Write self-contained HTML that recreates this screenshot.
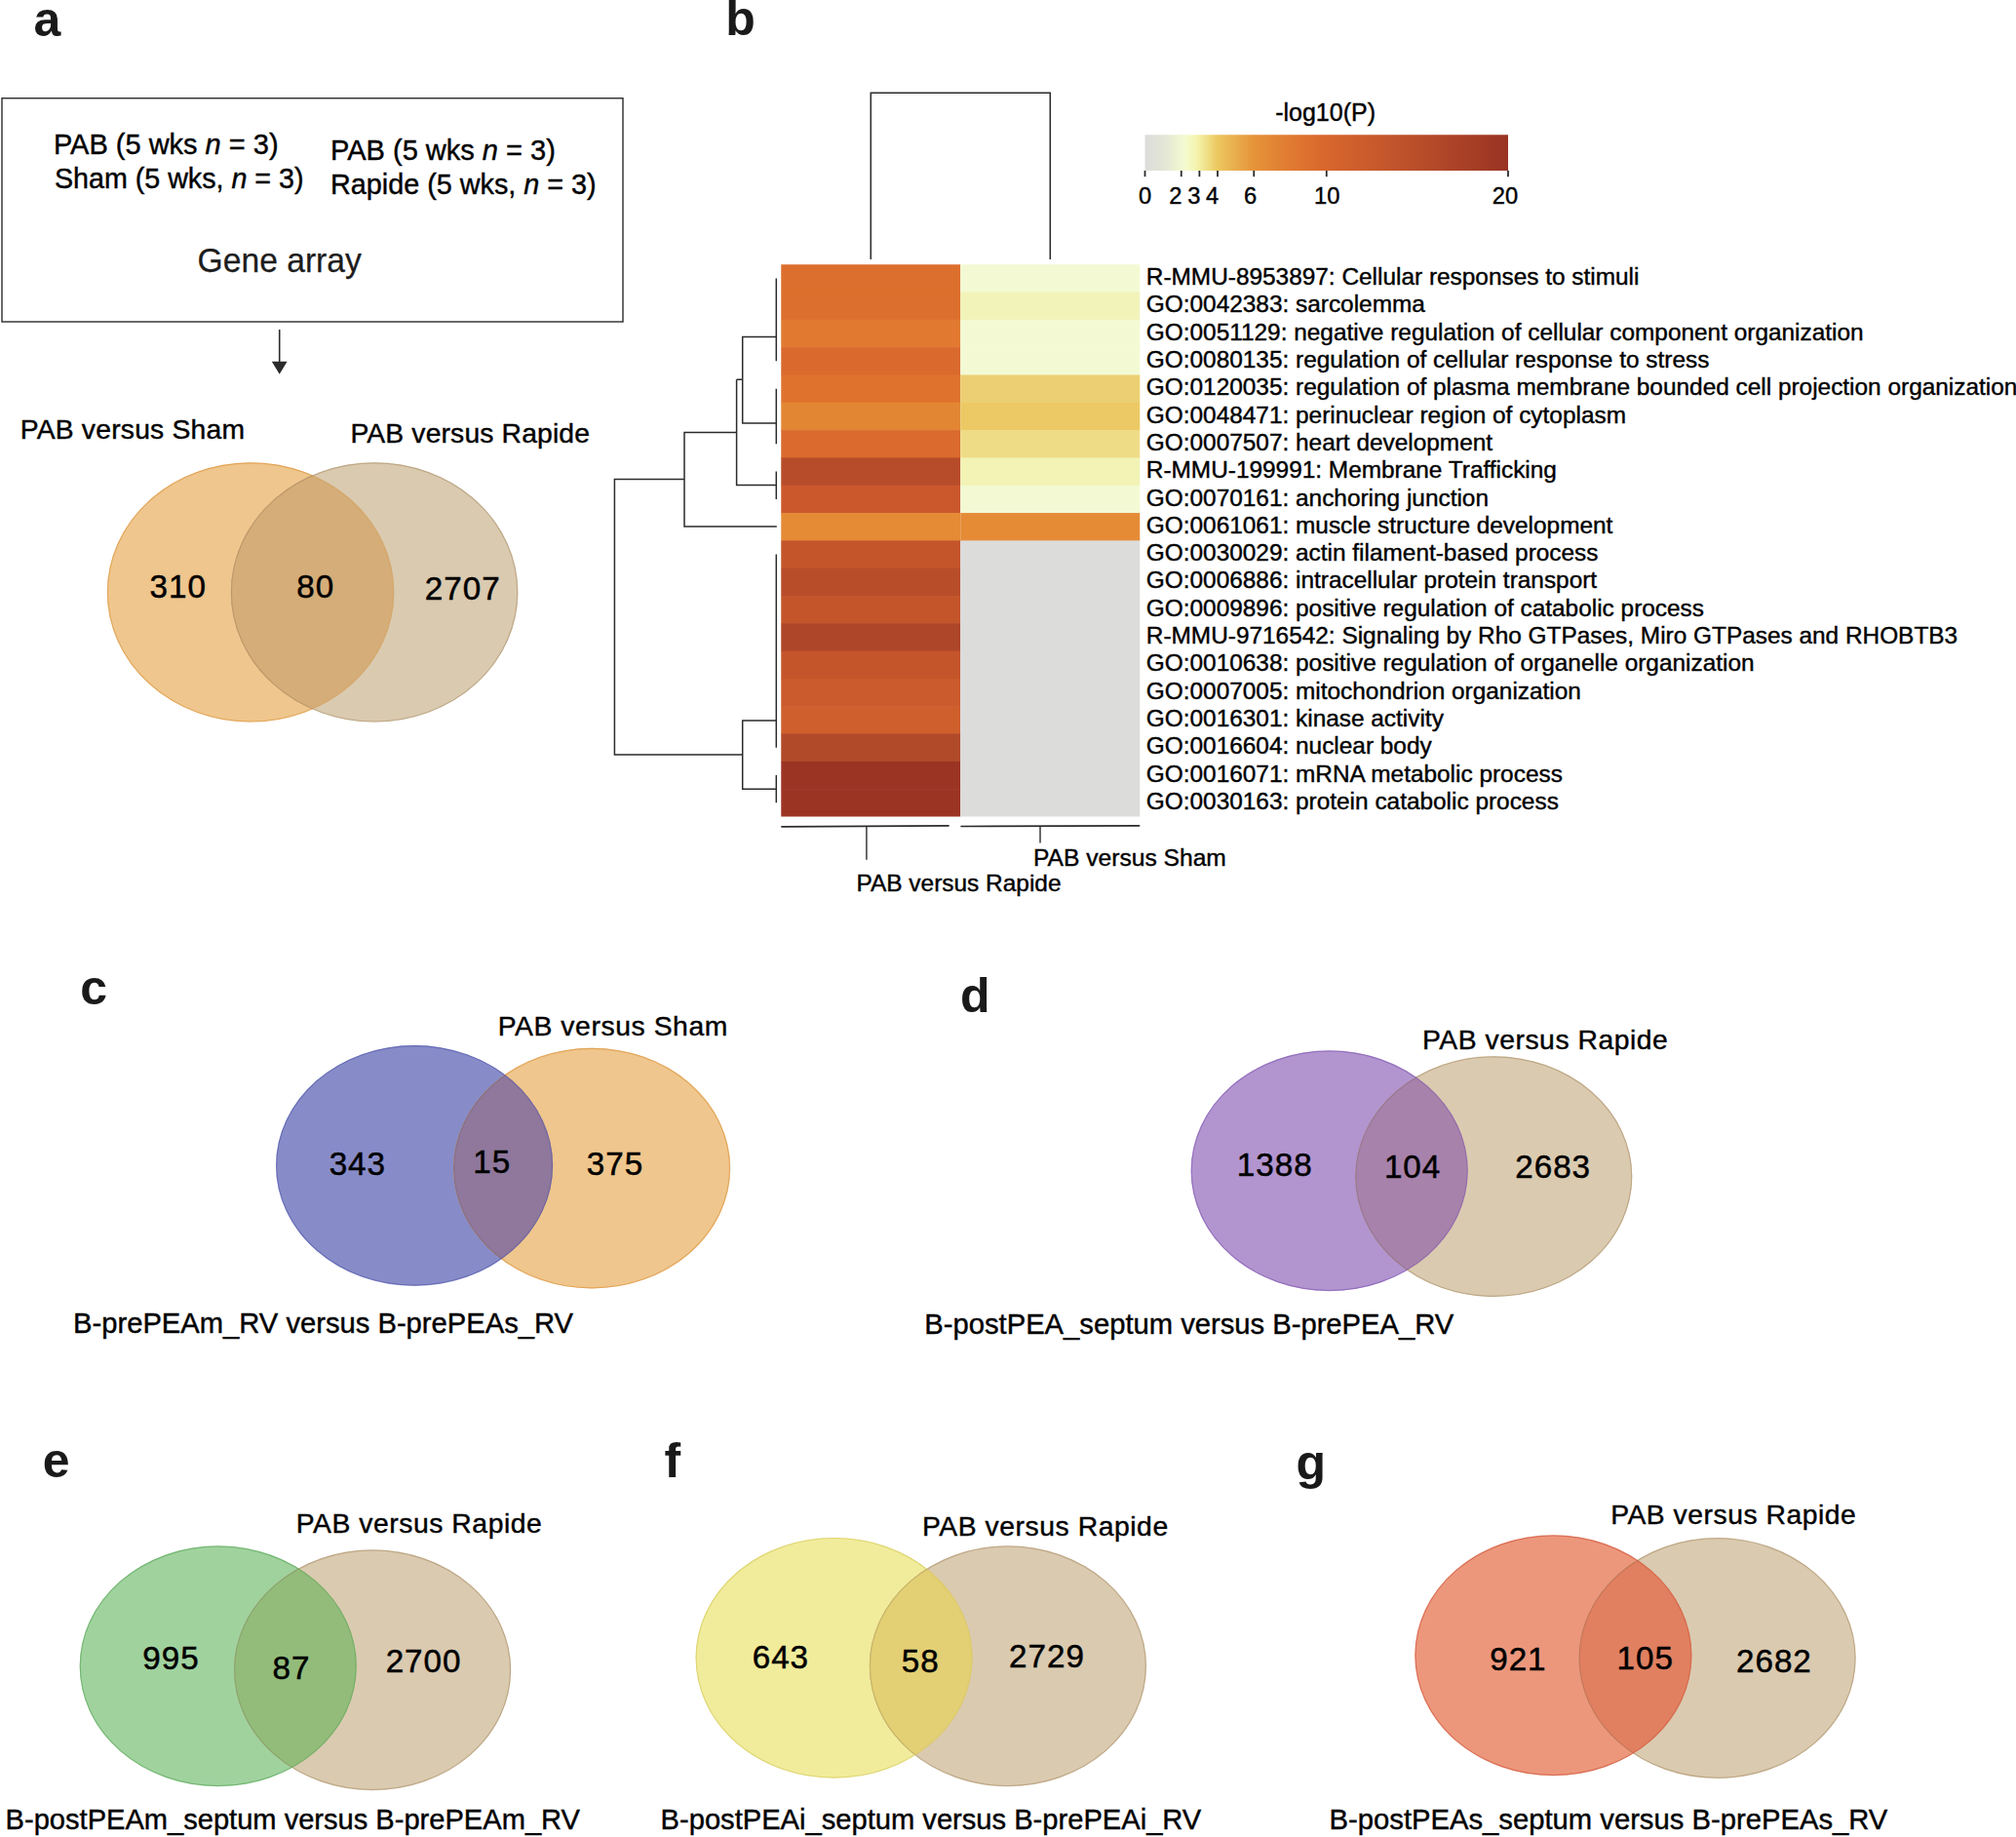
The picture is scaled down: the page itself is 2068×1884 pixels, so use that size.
<!DOCTYPE html>
<html lang="en"><head><meta charset="utf-8"><title>Figure</title>
<style>
html,body{margin:0;padding:0;background:#fff;}
body{width:2068px;height:1884px;overflow:hidden;}
svg{display:block;font-family:"Liberation Sans", Arial, Helvetica, sans-serif;}
text{white-space:pre;}
</style></head><body>
<svg width="2068" height="1884" viewBox="0 0 2068 1884">
<rect width="2068" height="1884" fill="#ffffff"/>
<text x="34.50" y="36.5" font-size="50" text-anchor="start" font-weight="bold" fill="#1a1a1a" >a</text>
<text x="744.25" y="35.5" font-size="50" text-anchor="start" font-weight="bold" fill="#1a1a1a" >b</text>
<text x="82.20" y="1029.9" font-size="50" text-anchor="start" font-weight="bold" fill="#1a1a1a" >c</text>
<text x="985.00" y="1037.8" font-size="50" text-anchor="start" font-weight="bold" fill="#1a1a1a" >d</text>
<text x="43.80" y="1515.3" font-size="50" text-anchor="start" font-weight="bold" fill="#1a1a1a" >e</text>
<text x="681.62" y="1515" font-size="50" text-anchor="start" font-weight="bold" fill="#1a1a1a" >f</text>
<text x="1329.60" y="1516.9" font-size="50" text-anchor="start" font-weight="bold" fill="#1a1a1a" >g</text>
<rect x="2" y="100.75" width="637" height="229.25" fill="none" stroke="#2b2b2b" stroke-width="1.4"/>
<text x="54.91" y="157.5" font-size="28.99" text-anchor="start" font-weight="normal" fill="#000"  stroke="#000" stroke-width="0.4">PAB (5 wks <tspan font-style="italic">n</tspan> = 3)</text>
<text x="55.91" y="192.5" font-size="28.66" text-anchor="start" font-weight="normal" fill="#000"  stroke="#000" stroke-width="0.4">Sham (5 wks, <tspan font-style="italic">n</tspan> = 3)</text>
<text x="339.00" y="164.25" font-size="29.03" text-anchor="start" font-weight="normal" fill="#000"  stroke="#000" stroke-width="0.4">PAB (5 wks <tspan font-style="italic">n</tspan> = 3)</text>
<text x="339.03" y="199.25" font-size="28.77" text-anchor="start" font-weight="normal" fill="#000"  stroke="#000" stroke-width="0.4">Rapide (5 wks, <tspan font-style="italic">n</tspan> = 3)</text>
<text x="202.57" y="279.2" font-size="35.2" text-anchor="start" font-weight="normal" fill="#1c1c1c" textLength="168.27" lengthAdjust="spacingAndGlyphs"  stroke="#1c1c1c" stroke-width="0.25">Gene array</text>
<line x1="286.7" y1="338" x2="286.7" y2="372" stroke="#2b2b2b" stroke-width="1.6"/>
<path d="M278.8 370.8 L294.6 370.8 L286.7 383.8 Z" fill="#2b2b2b"/>
<text x="20.67" y="450" font-size="28.3" text-anchor="start" font-weight="normal" fill="#000" letter-spacing="0.207" stroke="#000" stroke-width="0.4">PAB versus Sham</text>
<text x="359.42" y="453.75" font-size="28.3" text-anchor="start" font-weight="normal" fill="#000" letter-spacing="0.144" stroke="#000" stroke-width="0.4">PAB versus Rapide</text>
<clipPath id="cpa1"><ellipse cx="257.1" cy="607.4" rx="147.2" ry="133.1"/></clipPath><clipPath id="cpb1"><ellipse cx="384.1" cy="607.4" rx="147.2" ry="133.1"/></clipPath>
<ellipse cx="257.1" cy="607.4" rx="147.2" ry="133.1" fill="#efc68d"/>
<ellipse cx="257.1" cy="607.4" rx="146.7" ry="132.6" fill="none" stroke="#d88a2c" stroke-opacity="0.55" stroke-width="1.2"/>
<ellipse cx="384.1" cy="607.4" rx="147.2" ry="133.1" fill="#dacab0"/>
<ellipse cx="384.1" cy="607.4" rx="146.7" ry="132.6" fill="none" stroke="#a58a60" stroke-opacity="0.55" stroke-width="1.2"/>
<ellipse cx="384.1" cy="607.4" rx="147.2" ry="133.1" fill="#d5ad78" clip-path="url(#cpa1)"/>
<ellipse cx="384.1" cy="607.4" rx="146.7" ry="132.6" fill="none" stroke="#3a2a10" stroke-opacity="0.13" stroke-width="1.2" clip-path="url(#cpa1)"/>
<ellipse cx="257.1" cy="607.4" rx="146.7" ry="132.6" fill="none" stroke="#d88a2c" stroke-opacity="0.2" stroke-width="1.2" clip-path="url(#cpb1)"/>
<text x="153.57" y="613" font-size="33.2" text-anchor="start" font-weight="normal" fill="#000" letter-spacing="1.0" stroke="#000" stroke-width="0.5">310</text>
<text x="304.37" y="612.7" font-size="33.2" text-anchor="start" font-weight="normal" fill="#000" letter-spacing="1.0" stroke="#000" stroke-width="0.5">80</text>
<text x="435.86" y="614.5" font-size="33.2" text-anchor="start" font-weight="normal" fill="#000" letter-spacing="1.0" stroke="#000" stroke-width="0.5">2707</text>
<clipPath id="cpa2"><ellipse cx="425.1" cy="1195.4" rx="142" ry="123.3"/></clipPath><clipPath id="cpb2"><ellipse cx="607.1" cy="1198.1" rx="142" ry="123.3"/></clipPath>
<ellipse cx="425.1" cy="1195.4" rx="142" ry="123.3" fill="#878cc8"/>
<ellipse cx="425.1" cy="1195.4" rx="141.5" ry="122.8" fill="none" stroke="#4a50a8" stroke-opacity="0.55" stroke-width="1.2"/>
<ellipse cx="607.1" cy="1198.1" rx="142" ry="123.3" fill="#efc68d"/>
<ellipse cx="607.1" cy="1198.1" rx="141.5" ry="122.8" fill="none" stroke="#d88a2c" stroke-opacity="0.55" stroke-width="1.2"/>
<ellipse cx="607.1" cy="1198.1" rx="142" ry="123.3" fill="#8f789c" clip-path="url(#cpa2)"/>
<ellipse cx="607.1" cy="1198.1" rx="141.5" ry="122.8" fill="none" stroke="#3a2a10" stroke-opacity="0.13" stroke-width="1.2" clip-path="url(#cpa2)"/>
<ellipse cx="425.1" cy="1195.4" rx="141.5" ry="122.8" fill="none" stroke="#4a50a8" stroke-opacity="0.45" stroke-width="1.2" clip-path="url(#cpb2)"/>
<text x="337.65" y="1204.5" font-size="33.2" text-anchor="start" font-weight="normal" fill="#000" letter-spacing="1.0" stroke="#000" stroke-width="0.5">343</text>
<text x="485.37" y="1203" font-size="33.2" text-anchor="start" font-weight="normal" fill="#000" letter-spacing="1.0" stroke="#000" stroke-width="0.5">15</text>
<text x="601.74" y="1205" font-size="33.2" text-anchor="start" font-weight="normal" fill="#000" letter-spacing="1.0" stroke="#000" stroke-width="0.5">375</text>
<text x="510.67" y="1062" font-size="28.3" text-anchor="start" font-weight="normal" fill="#000" letter-spacing="0.582" stroke="#000" stroke-width="0.4">PAB versus Sham</text>
<text x="75.09" y="1367" font-size="29.18" text-anchor="start" font-weight="normal" fill="#000"  stroke="#000" stroke-width="0.4">B-prePEAm_RV versus B-prePEAs_RV</text>
<clipPath id="cpa3"><ellipse cx="1363.7" cy="1200.75" rx="142" ry="123.3"/></clipPath><clipPath id="cpb3"><ellipse cx="1532.25" cy="1206.6" rx="142" ry="123.3"/></clipPath>
<ellipse cx="1363.7" cy="1200.75" rx="142" ry="123.3" fill="#b295cf"/>
<ellipse cx="1363.7" cy="1200.75" rx="141.5" ry="122.8" fill="none" stroke="#7a4fae" stroke-opacity="0.55" stroke-width="1.2"/>
<ellipse cx="1532.25" cy="1206.6" rx="142" ry="123.3" fill="#dacab0"/>
<ellipse cx="1532.25" cy="1206.6" rx="141.5" ry="122.8" fill="none" stroke="#a58a60" stroke-opacity="0.55" stroke-width="1.2"/>
<ellipse cx="1532.25" cy="1206.6" rx="142" ry="123.3" fill="#a782ab" clip-path="url(#cpa3)"/>
<ellipse cx="1532.25" cy="1206.6" rx="141.5" ry="122.8" fill="none" stroke="#3a2a10" stroke-opacity="0.13" stroke-width="1.2" clip-path="url(#cpa3)"/>
<ellipse cx="1363.7" cy="1200.75" rx="141.5" ry="122.8" fill="none" stroke="#7a4fae" stroke-opacity="0.45" stroke-width="1.2" clip-path="url(#cpb3)"/>
<text x="1268.82" y="1206.25" font-size="33.2" text-anchor="start" font-weight="normal" fill="#000" letter-spacing="1.0" stroke="#000" stroke-width="0.5">1388</text>
<text x="1419.91" y="1208.25" font-size="33.2" text-anchor="start" font-weight="normal" fill="#000" letter-spacing="1.0" stroke="#000" stroke-width="0.5">104</text>
<text x="1554.23" y="1208.25" font-size="33.2" text-anchor="start" font-weight="normal" fill="#000" letter-spacing="1.0" stroke="#000" stroke-width="0.5">2683</text>
<text x="1458.97" y="1076" font-size="28.3" text-anchor="start" font-weight="normal" fill="#000" letter-spacing="0.537" stroke="#000" stroke-width="0.4">PAB versus Rapide</text>
<text x="948.34" y="1368" font-size="29.19" text-anchor="start" font-weight="normal" fill="#000"  stroke="#000" stroke-width="0.4">B-postPEA_septum versus B-prePEA_RV</text>
<clipPath id="cpa4"><ellipse cx="223.75" cy="1708.75" rx="142" ry="123.3"/></clipPath><clipPath id="cpb4"><ellipse cx="382.1" cy="1712.75" rx="142" ry="123.3"/></clipPath>
<ellipse cx="223.75" cy="1708.75" rx="142" ry="123.3" fill="#a0d29e"/>
<ellipse cx="223.75" cy="1708.75" rx="141.5" ry="122.8" fill="none" stroke="#4fa04c" stroke-opacity="0.55" stroke-width="1.2"/>
<ellipse cx="382.1" cy="1712.75" rx="142" ry="123.3" fill="#dacab0"/>
<ellipse cx="382.1" cy="1712.75" rx="141.5" ry="122.8" fill="none" stroke="#a58a60" stroke-opacity="0.55" stroke-width="1.2"/>
<ellipse cx="382.1" cy="1712.75" rx="142" ry="123.3" fill="#93bc7b" clip-path="url(#cpa4)"/>
<ellipse cx="382.1" cy="1712.75" rx="141.5" ry="122.8" fill="none" stroke="#3a2a10" stroke-opacity="0.13" stroke-width="1.2" clip-path="url(#cpa4)"/>
<ellipse cx="223.75" cy="1708.75" rx="141.5" ry="122.8" fill="none" stroke="#4fa04c" stroke-opacity="0.45" stroke-width="1.2" clip-path="url(#cpb4)"/>
<text x="146.32" y="1712" font-size="33.2" text-anchor="start" font-weight="normal" fill="#000" letter-spacing="1.0" stroke="#000" stroke-width="0.5">995</text>
<text x="279.57" y="1721.5" font-size="33.2" text-anchor="start" font-weight="normal" fill="#000" letter-spacing="1.0" stroke="#000" stroke-width="0.5">87</text>
<text x="395.65" y="1714.75" font-size="33.2" text-anchor="start" font-weight="normal" fill="#000" letter-spacing="1.0" stroke="#000" stroke-width="0.5">2700</text>
<text x="303.67" y="1572.1" font-size="28.3" text-anchor="start" font-weight="normal" fill="#000" letter-spacing="0.556" stroke="#000" stroke-width="0.4">PAB versus Rapide</text>
<text x="5.60" y="1876" font-size="29.09" text-anchor="start" font-weight="normal" fill="#000"  stroke="#000" stroke-width="0.4">B-postPEAm_septum versus B-prePEAm_RV</text>
<clipPath id="cpa5"><ellipse cx="855.6" cy="1700.3" rx="142" ry="123.3"/></clipPath><clipPath id="cpb5"><ellipse cx="1033.9" cy="1708.75" rx="142" ry="123.3"/></clipPath>
<ellipse cx="855.6" cy="1700.3" rx="142" ry="123.3" fill="#f1ec9b"/>
<ellipse cx="855.6" cy="1700.3" rx="141.5" ry="122.8" fill="none" stroke="#cfc350" stroke-opacity="0.55" stroke-width="1.2"/>
<ellipse cx="1033.9" cy="1708.75" rx="142" ry="123.3" fill="#dacab0"/>
<ellipse cx="1033.9" cy="1708.75" rx="141.5" ry="122.8" fill="none" stroke="#a58a60" stroke-opacity="0.55" stroke-width="1.2"/>
<ellipse cx="1033.9" cy="1708.75" rx="142" ry="123.3" fill="#e3cf74" clip-path="url(#cpa5)"/>
<ellipse cx="1033.9" cy="1708.75" rx="141.5" ry="122.8" fill="none" stroke="#3a2a10" stroke-opacity="0.13" stroke-width="1.2" clip-path="url(#cpa5)"/>
<ellipse cx="855.6" cy="1700.3" rx="141.5" ry="122.8" fill="none" stroke="#cfc350" stroke-opacity="0.3" stroke-width="1.2" clip-path="url(#cpb5)"/>
<text x="771.70" y="1711" font-size="33.2" text-anchor="start" font-weight="normal" fill="#000" letter-spacing="1.0" stroke="#000" stroke-width="0.5">643</text>
<text x="924.74" y="1715.4" font-size="33.2" text-anchor="start" font-weight="normal" fill="#000" letter-spacing="1.0" stroke="#000" stroke-width="0.5">58</text>
<text x="1035.02" y="1709.5" font-size="33.2" text-anchor="start" font-weight="normal" fill="#000" letter-spacing="1.0" stroke="#000" stroke-width="0.5">2729</text>
<text x="945.97" y="1574.5" font-size="28.3" text-anchor="start" font-weight="normal" fill="#000" letter-spacing="0.556" stroke="#000" stroke-width="0.4">PAB versus Rapide</text>
<text x="677.60" y="1876" font-size="29.14" text-anchor="start" font-weight="normal" fill="#000"  stroke="#000" stroke-width="0.4">B-postPEAi_septum versus B-prePEAi_RV</text>
<clipPath id="cpa6"><ellipse cx="1593.4" cy="1697.75" rx="142" ry="123.3"/></clipPath><clipPath id="cpb6"><ellipse cx="1761.6" cy="1700.5" rx="142" ry="123.3"/></clipPath>
<ellipse cx="1593.4" cy="1697.75" rx="142" ry="123.3" fill="#ec977c"/>
<ellipse cx="1593.4" cy="1697.75" rx="141.5" ry="122.8" fill="none" stroke="#cc4a30" stroke-opacity="0.55" stroke-width="1.2"/>
<ellipse cx="1761.6" cy="1700.5" rx="142" ry="123.3" fill="#dacab0"/>
<ellipse cx="1761.6" cy="1700.5" rx="141.5" ry="122.8" fill="none" stroke="#a58a60" stroke-opacity="0.55" stroke-width="1.2"/>
<ellipse cx="1761.6" cy="1700.5" rx="142" ry="123.3" fill="#e08060" clip-path="url(#cpa6)"/>
<ellipse cx="1761.6" cy="1700.5" rx="141.5" ry="122.8" fill="none" stroke="#3a2a10" stroke-opacity="0.13" stroke-width="1.2" clip-path="url(#cpa6)"/>
<ellipse cx="1593.4" cy="1697.75" rx="141.5" ry="122.8" fill="none" stroke="#cc4a30" stroke-opacity="0.45" stroke-width="1.2" clip-path="url(#cpb6)"/>
<text x="1528.19" y="1712.75" font-size="33.2" text-anchor="start" font-weight="normal" fill="#000" letter-spacing="1.0" stroke="#000" stroke-width="0.5">921</text>
<text x="1658.49" y="1711.5" font-size="33.2" text-anchor="start" font-weight="normal" fill="#000" letter-spacing="1.0" stroke="#000" stroke-width="0.5">105</text>
<text x="1780.98" y="1715.25" font-size="33.2" text-anchor="start" font-weight="normal" fill="#000" letter-spacing="1.0" stroke="#000" stroke-width="0.5">2682</text>
<text x="1652.17" y="1563.25" font-size="28.3" text-anchor="start" font-weight="normal" fill="#000" letter-spacing="0.519" stroke="#000" stroke-width="0.4">PAB versus Rapide</text>
<text x="1363.59" y="1876" font-size="29.23" text-anchor="start" font-weight="normal" fill="#000"  stroke="#000" stroke-width="0.4">B-postPEAs_septum versus B-prePEAs_RV</text>
<rect x="801.25" y="271.25" width="184.0" height="28.91" fill="#dd6f2e"/>
<rect x="985.25" y="271.25" width="184.0" height="28.91" fill="#f3fad3"/>
<rect x="801.25" y="299.56" width="184.0" height="28.91" fill="#dd6f2e"/>
<rect x="985.25" y="299.56" width="184.0" height="28.91" fill="#f2f3b9"/>
<rect x="801.25" y="327.88" width="184.0" height="28.91" fill="#e17a30"/>
<rect x="985.25" y="327.88" width="184.0" height="28.91" fill="#f3fad3"/>
<rect x="801.25" y="356.19" width="184.0" height="28.91" fill="#da692e"/>
<rect x="985.25" y="356.19" width="184.0" height="28.91" fill="#f3fad3"/>
<rect x="801.25" y="384.50" width="184.0" height="28.91" fill="#df732e"/>
<rect x="985.25" y="384.50" width="184.0" height="28.91" fill="#eccf72"/>
<rect x="801.25" y="412.81" width="184.0" height="28.91" fill="#e38634"/>
<rect x="985.25" y="412.81" width="184.0" height="28.91" fill="#ecc964"/>
<rect x="801.25" y="441.12" width="184.0" height="28.91" fill="#da6a2e"/>
<rect x="985.25" y="441.12" width="184.0" height="28.91" fill="#eedc86"/>
<rect x="801.25" y="469.44" width="184.0" height="28.91" fill="#b74c2a"/>
<rect x="985.25" y="469.44" width="184.0" height="28.91" fill="#f2f3b5"/>
<rect x="801.25" y="497.75" width="184.0" height="28.91" fill="#cb582c"/>
<rect x="985.25" y="497.75" width="184.0" height="28.91" fill="#f3fad3"/>
<rect x="801.25" y="526.06" width="184.0" height="28.91" fill="#e58b36"/>
<rect x="985.25" y="526.06" width="184.0" height="28.91" fill="#e58b36"/>
<rect x="801.25" y="554.38" width="184.0" height="28.91" fill="#c4552b"/>
<rect x="985.25" y="554.38" width="184.0" height="28.91" fill="#dcdcda"/>
<rect x="801.25" y="582.69" width="184.0" height="28.91" fill="#b84d2a"/>
<rect x="985.25" y="582.69" width="184.0" height="28.91" fill="#dcdcda"/>
<rect x="801.25" y="611.00" width="184.0" height="28.91" fill="#c4552b"/>
<rect x="985.25" y="611.00" width="184.0" height="28.91" fill="#dcdcda"/>
<rect x="801.25" y="639.31" width="184.0" height="28.91" fill="#ae462a"/>
<rect x="985.25" y="639.31" width="184.0" height="28.91" fill="#dcdcda"/>
<rect x="801.25" y="667.62" width="184.0" height="28.91" fill="#c4552b"/>
<rect x="985.25" y="667.62" width="184.0" height="28.91" fill="#dcdcda"/>
<rect x="801.25" y="695.94" width="184.0" height="28.91" fill="#cb5a2c"/>
<rect x="985.25" y="695.94" width="184.0" height="28.91" fill="#dcdcda"/>
<rect x="801.25" y="724.25" width="184.0" height="28.91" fill="#cf5f2d"/>
<rect x="985.25" y="724.25" width="184.0" height="28.91" fill="#dcdcda"/>
<rect x="801.25" y="752.56" width="184.0" height="28.91" fill="#b14a29"/>
<rect x="985.25" y="752.56" width="184.0" height="28.91" fill="#dcdcda"/>
<rect x="801.25" y="780.88" width="184.0" height="28.91" fill="#9c3424"/>
<rect x="985.25" y="780.88" width="184.0" height="28.91" fill="#dcdcda"/>
<rect x="801.25" y="809.19" width="184.0" height="28.31" fill="#9c3424"/>
<rect x="985.25" y="809.19" width="184.0" height="28.31" fill="#dcdcda"/>
<text x="1175.8" y="292.01" font-size="24.4" text-anchor="start" font-weight="normal" fill="#000"  stroke="#000" stroke-width="0.4">R-MMU-8953897: Cellular responses to stimuli</text>
<text x="1175.8" y="320.32" font-size="24.4" text-anchor="start" font-weight="normal" fill="#000"  stroke="#000" stroke-width="0.4">GO:0042383: sarcolemma</text>
<text x="1175.8" y="348.63" font-size="24.4" text-anchor="start" font-weight="normal" fill="#000"  stroke="#000" stroke-width="0.4">GO:0051129: negative regulation of cellular component organization</text>
<text x="1175.8" y="376.94" font-size="24.4" text-anchor="start" font-weight="normal" fill="#000"  stroke="#000" stroke-width="0.4">GO:0080135: regulation of cellular response to stress</text>
<text x="1175.8" y="405.26" font-size="24.4" text-anchor="start" font-weight="normal" fill="#000"  stroke="#000" stroke-width="0.4">GO:0120035: regulation of plasma membrane bounded cell projection organization</text>
<text x="1175.8" y="433.57" font-size="24.4" text-anchor="start" font-weight="normal" fill="#000"  stroke="#000" stroke-width="0.4">GO:0048471: perinuclear region of cytoplasm</text>
<text x="1175.8" y="461.88" font-size="24.4" text-anchor="start" font-weight="normal" fill="#000"  stroke="#000" stroke-width="0.4">GO:0007507: heart development</text>
<text x="1175.8" y="490.19" font-size="24.4" text-anchor="start" font-weight="normal" fill="#000"  stroke="#000" stroke-width="0.4">R-MMU-199991: Membrane Trafficking</text>
<text x="1175.8" y="518.51" font-size="24.4" text-anchor="start" font-weight="normal" fill="#000"  stroke="#000" stroke-width="0.4">GO:0070161: anchoring junction</text>
<text x="1175.8" y="546.82" font-size="24.4" text-anchor="start" font-weight="normal" fill="#000"  stroke="#000" stroke-width="0.4">GO:0061061: muscle structure development</text>
<text x="1175.8" y="575.13" font-size="24.4" text-anchor="start" font-weight="normal" fill="#000"  stroke="#000" stroke-width="0.4">GO:0030029: actin filament-based process</text>
<text x="1175.8" y="603.44" font-size="24.4" text-anchor="start" font-weight="normal" fill="#000"  stroke="#000" stroke-width="0.4">GO:0006886: intracellular protein transport</text>
<text x="1175.8" y="631.76" font-size="24.4" text-anchor="start" font-weight="normal" fill="#000"  stroke="#000" stroke-width="0.4">GO:0009896: positive regulation of catabolic process</text>
<text x="1175.8" y="660.07" font-size="24.4" text-anchor="start" font-weight="normal" fill="#000"  stroke="#000" stroke-width="0.4">R-MMU-9716542: Signaling by Rho GTPases, Miro GTPases and RHOBTB3</text>
<text x="1175.8" y="688.38" font-size="24.4" text-anchor="start" font-weight="normal" fill="#000"  stroke="#000" stroke-width="0.4">GO:0010638: positive regulation of organelle organization</text>
<text x="1175.8" y="716.69" font-size="24.4" text-anchor="start" font-weight="normal" fill="#000"  stroke="#000" stroke-width="0.4">GO:0007005: mitochondrion organization</text>
<text x="1175.8" y="745.01" font-size="24.4" text-anchor="start" font-weight="normal" fill="#000"  stroke="#000" stroke-width="0.4">GO:0016301: kinase activity</text>
<text x="1175.8" y="773.32" font-size="24.4" text-anchor="start" font-weight="normal" fill="#000"  stroke="#000" stroke-width="0.4">GO:0016604: nuclear body</text>
<text x="1175.8" y="801.63" font-size="24.4" text-anchor="start" font-weight="normal" fill="#000"  stroke="#000" stroke-width="0.4">GO:0016071: mRNA metabolic process</text>
<text x="1175.8" y="829.94" font-size="24.4" text-anchor="start" font-weight="normal" fill="#000"  stroke="#000" stroke-width="0.4">GO:0030163: protein catabolic process</text>
<path d="M796.3 285.4V370.3M796.3 398.7V455.3M796.3 483.6V511.9M796.3 568.5V766.7M796.3 795.0V823.3M796.3 345.5H761.7V434H796.3M761.7 389.3H755.6M755.6 389.3V497.6H796.3M755.6 443.5H702V540.1H796.8M796.3 738.9H761.7V809.2H796.3M702 491.6H630.4V773.9H761.7" fill="none" stroke="#2b2b2b" stroke-width="1.5" stroke-linejoin="miter"/>
<path d="M893.25 266V95.25H1077.25V266" fill="none" stroke="#2b2b2b" stroke-width="1.5" stroke-linejoin="miter"/>
<path d="M801.3 847.9L973.6 846.9" fill="none" stroke="#2b2b2b" stroke-width="1.6" stroke-linejoin="miter"/>
<path d="M985.4 847.5L1169.2 846.9" fill="none" stroke="#2b2b2b" stroke-width="1.6" stroke-linejoin="miter"/>
<path d="M888.9 847.5V881.8" fill="none" stroke="#2b2b2b" stroke-width="1.4" stroke-linejoin="miter"/>
<path d="M1067 847.5V864.5" fill="none" stroke="#2b2b2b" stroke-width="1.4" stroke-linejoin="miter"/>
<text x="1059.97" y="888.25" font-size="24.61" text-anchor="start" font-weight="normal" fill="#000"  stroke="#000" stroke-width="0.4">PAB versus Sham</text>
<text x="878.48" y="913.75" font-size="24.44" text-anchor="start" font-weight="normal" fill="#000"  stroke="#000" stroke-width="0.4">PAB versus Rapide</text>
<defs><linearGradient id="cb" x1="0" x2="1" y1="0" y2="0">
<stop offset="0" stop-color="#dcdcda"/>
<stop offset="0.055" stop-color="#e4e6d6"/>
<stop offset="0.11" stop-color="#f4fbd0"/>
<stop offset="0.14" stop-color="#f4f5b0"/>
<stop offset="0.17" stop-color="#f0e088"/>
<stop offset="0.2" stop-color="#ecc760"/>
<stop offset="0.3" stop-color="#e6933a"/>
<stop offset="0.4" stop-color="#e07a31"/>
<stop offset="0.5" stop-color="#d8662d"/>
<stop offset="0.75" stop-color="#b94e2a"/>
<stop offset="1" stop-color="#9a3323"/>
</linearGradient></defs>
<rect x="1174.5" y="138.25" width="372.5" height="36.75" fill="url(#cb)"/>
<line x1="1174.50" y1="175" x2="1174.50" y2="181.2" stroke="#2b2b2b" stroke-width="1.8"/>
<text x="1174.50" y="208.7" font-size="23.7" text-anchor="middle" font-weight="normal" fill="#000"  stroke="#000" stroke-width="0.4">0</text>
<line x1="1211.75" y1="175" x2="1211.75" y2="181.2" stroke="#2b2b2b" stroke-width="1.8"/>
<text x="1205.75" y="208.7" font-size="23.7" text-anchor="middle" font-weight="normal" fill="#000"  stroke="#000" stroke-width="0.4">2</text>
<line x1="1230.38" y1="175" x2="1230.38" y2="181.2" stroke="#2b2b2b" stroke-width="1.8"/>
<text x="1224.88" y="208.7" font-size="23.7" text-anchor="middle" font-weight="normal" fill="#000"  stroke="#000" stroke-width="0.4">3</text>
<line x1="1249.00" y1="175" x2="1249.00" y2="181.2" stroke="#2b2b2b" stroke-width="1.8"/>
<text x="1243.50" y="208.7" font-size="23.7" text-anchor="middle" font-weight="normal" fill="#000"  stroke="#000" stroke-width="0.4">4</text>
<line x1="1286.25" y1="175" x2="1286.25" y2="181.2" stroke="#2b2b2b" stroke-width="1.8"/>
<text x="1282.50" y="208.7" font-size="23.7" text-anchor="middle" font-weight="normal" fill="#000"  stroke="#000" stroke-width="0.4">6</text>
<line x1="1360.75" y1="175" x2="1360.75" y2="181.2" stroke="#2b2b2b" stroke-width="1.8"/>
<text x="1361.25" y="208.7" font-size="23.7" text-anchor="middle" font-weight="normal" fill="#000"  stroke="#000" stroke-width="0.4">10</text>
<line x1="1547.00" y1="175" x2="1547.00" y2="181.2" stroke="#2b2b2b" stroke-width="1.8"/>
<text x="1544.00" y="208.7" font-size="23.7" text-anchor="middle" font-weight="normal" fill="#000"  stroke="#000" stroke-width="0.4">20</text>
<text x="1359.6" y="124.3" font-size="25" text-anchor="middle" font-weight="normal" fill="#000"  stroke="#000" stroke-width="0.4">-log10(P)</text>
</svg>
</body></html>
